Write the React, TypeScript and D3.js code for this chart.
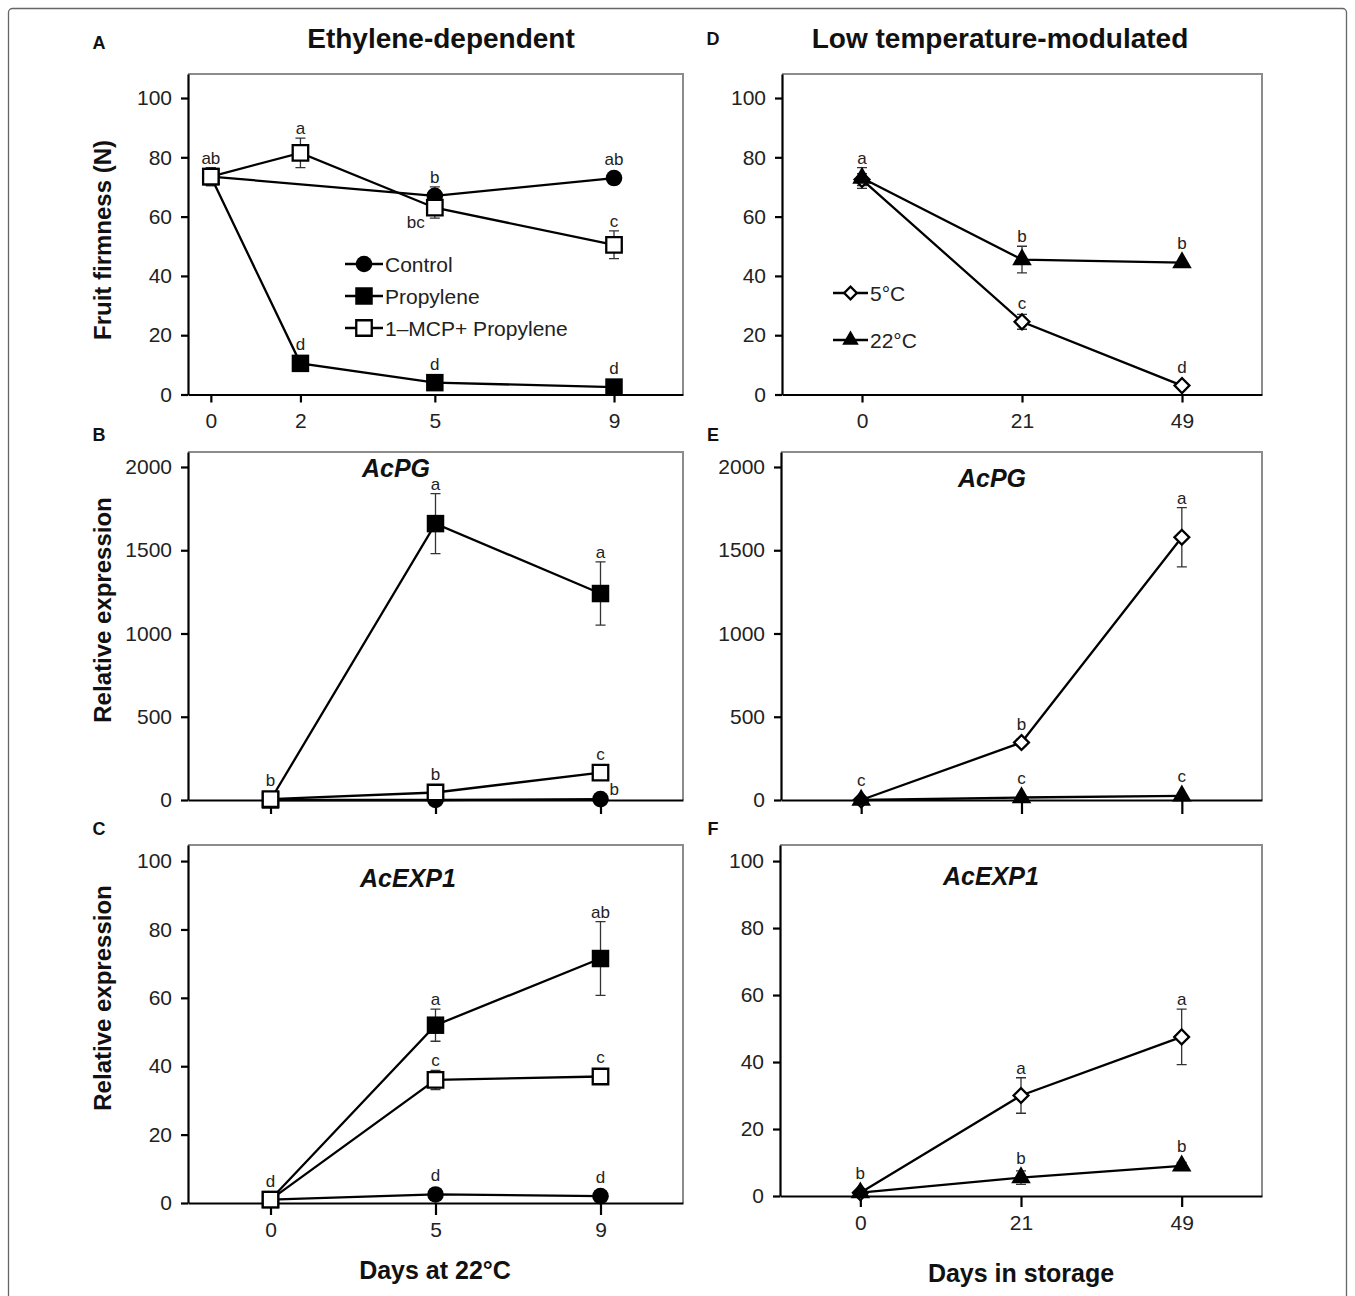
import * as d3 from 'd3';
import { useEffect, useRef } from 'react';

const FONT = 'Liberation Sans, Arial, Helvetica, sans-serif'

// ---------- A: fruit firmness, ethylene treatments ----------
const daysA = [0, 2, 5, 9]
const firmCtrlDays = [0, 5, 9]
const firmCtrl = [73.5, 67, 73]
const firmCtrlErr = [3, 3, 2]
const firmCtrlLetters = ['ab', 'b', 'ab']
const firmProp = [73.5, 10.5, 4, 2.5]
const firmPropErr = [0, 0, 0, 0]
const firmPropLetters = ['', 'd', 'd', 'd']
const firmMcp = [73.5, 81.5, 63, 50.5]
const firmMcpErr = [3, 5, 3.5, 4.7]
const firmMcpLetters = ['', 'a', 'bc', 'c']
const firmMcpLetterPos = ['top', 'top', 'left', 'top']

// ---------- B / C: expression, ethylene treatments ----------
const daysEth = ['0', '5', '9']
const pgEthCtrl = [0, 0, 5]
const pgEthCtrlLetters = ['', '', 'b']
const pgEthCtrlLetterPos = ['top', 'top', 'right']
const pgEthProp = [0, 1660, 1240]
const pgEthPropErr = [0, 180, 190]
const pgEthPropLetters = ['', 'a', 'a']
const pgEthMcp = [5, 45, 165]
const pgEthMcpLetters = ['b', 'b', 'c']

const expEthCtrl = [1, 2.5, 2]
const expEthCtrlLetters = ['', 'd', 'd']
const expEthProp = [1, 52, 71.5]
const expEthPropErr = [0, 4.7, 10.8]
const expEthPropLetters = ['', 'a', 'ab']
const expEthMcp = [1, 36, 37]
const expEthMcpErr = [0, 2.8, 0]
const expEthMcpLetters = ['d', 'c', 'c']

// ---------- D / E / F: storage temperature ----------
const daysStore = ['0', '21', '49']
const firmSt5 = [72.5, 24.5, 3]
const firmSt5Err = [2, 2.5, 0]
const firmSt5Letters = ['', 'c', 'd']
const firmSt22 = [73, 45.5, 44.5]
const firmSt22Err = [3.5, 4.5, 0]
const firmSt22Letters = ['a', 'b', 'b']

const pgSt5 = [0, 345, 1578]
const pgSt5Err = [0, 20, 178]
const pgSt5Letters = ['', 'b', 'a']
const pgSt22 = [0, 15, 25]
const pgSt22Letters = ['c', 'c', 'c']

const expSt5 = [1, 30, 47.5]
const expSt5Err = [0, 5.3, 8.3]
const expSt5Letters = ['', 'a', 'a']
const expSt22 = [1, 5.5, 9]
const expSt22Err = [0, 2, 1]
const expSt22Letters = ['b', 'b', 'b']

const ticksFirm = [0, 20, 40, 60, 80, 100]
const ticksPG = [0, 500, 1000, 1500, 2000]
const ticksExp = [0, 20, 40, 60, 80, 100]

const zeros = (n: number) => new Array(n).fill(0)

const ethLegend = [
  { name: 'Control', marker: 'circle' },
  { name: 'Propylene', marker: 'square' },
  { name: '1\u2013MCP+ Propylene', marker: 'open' },
]
const storeLegend = [
  { name: '5\u00b0C', marker: 'diamond' },
  { name: '22\u00b0C', marker: 'triangle' },
]

function ser(marker, x, y, err, letters, pos?) {
  return { marker, x, y, err, letters, pos: pos || letters.map(() => 'top') }
}

const panels = [
  {
    id: 'A', left: 188, right: 683, top: 74, bottom: 394.5, linear: true, xDomain: [-0.51, 10.54], xTicks: daysA,
    yDomain: [0, 108.1], yTicks: ticksFirm, tick: 8, labels: true,
    series: [
      ser('circle', firmCtrlDays, firmCtrl, firmCtrlErr, firmCtrlLetters),
      ser('square', daysA, firmProp, firmPropErr, firmPropLetters),
      ser('open', daysA, firmMcp, firmMcpErr, firmMcpLetters, firmMcpLetterPos),
    ],
    legend: { items: ethLegend, x1: 345, x2: 383, rows: [264, 296, 328], scale: 1 },
  },
  {
    id: 'B', left: 188, right: 683, top: 452, bottom: 800, cats: daysEth,
    yDomain: [0, 2090], yTicks: ticksPG, tick: 14, labels: false,
    gene: { text: 'AcPG', x: 396, y: 477 },
    series: [
      ser('circle', daysEth, pgEthCtrl, zeros(3), pgEthCtrlLetters, pgEthCtrlLetterPos),
      ser('square', daysEth, pgEthProp, pgEthPropErr, pgEthPropLetters),
      ser('open', daysEth, pgEthMcp, zeros(3), pgEthMcpLetters),
    ],
  },
  {
    id: 'C', left: 188, right: 683, top: 845, bottom: 1203, cats: daysEth,
    yDomain: [0, 104.7], yTicks: ticksExp, tick: 12, labels: true,
    gene: { text: 'AcEXP1', x: 408, y: 887 },
    series: [
      ser('circle', daysEth, expEthCtrl, zeros(3), expEthCtrlLetters),
      ser('square', daysEth, expEthProp, expEthPropErr, expEthPropLetters),
      ser('open', daysEth, expEthMcp, expEthMcpErr, expEthMcpLetters),
    ],
  },
  {
    id: 'D', left: 782, right: 1262, top: 74, bottom: 394.5, cats: daysStore,
    yDomain: [0, 108.1], yTicks: ticksFirm, tick: 8, labels: true,
    series: [
      ser('diamond', daysStore, firmSt5, firmSt5Err, firmSt5Letters),
      ser('triangle', daysStore, firmSt22, firmSt22Err, firmSt22Letters),
    ],
    legend: { items: storeLegend, x1: 833, x2: 868, rows: [293, 340], scale: 0.85 },
  },
  {
    id: 'E', left: 781, right: 1262, top: 452, bottom: 800, cats: daysStore,
    yDomain: [0, 2090], yTicks: ticksPG, tick: 14, labels: false,
    gene: { text: 'AcPG', x: 992, y: 487 },
    series: [
      ser('diamond', daysStore, pgSt5, pgSt5Err, pgSt5Letters),
      ser('triangle', daysStore, pgSt22, zeros(3), pgSt22Letters),
    ],
  },
  {
    id: 'F', left: 780, right: 1262, top: 845, bottom: 1196, cats: daysStore,
    yDomain: [0, 104.8], yTicks: ticksExp, tick: 11, labels: true,
    gene: { text: 'AcEXP1', x: 991, y: 885 },
    series: [
      ser('diamond', daysStore, expSt5, expSt5Err, expSt5Letters),
      ser('triangle', daysStore, expSt22, expSt22Err, expSt22Letters),
    ],
  },
]

function drawMarker(g, kind, cx, cy, s = 1) {
  if (kind === 'circle') {
    g.append('circle').attr('cx', cx).attr('cy', cy).attr('r', 8.3 * s).attr('fill', '#000')
  } else if (kind === 'square') {
    g.append('path').attr('d', d3.symbol(d3.symbolSquare, (17.5 * s) ** 2)())
      .attr('transform', `translate(${cx},${cy})`).attr('fill', '#000')
  } else if (kind === 'open') {
    g.append('path').attr('d', d3.symbol(d3.symbolSquare, (15.5 * s) ** 2)())
      .attr('transform', `translate(${cx},${cy})`).attr('fill', '#fff').attr('stroke', '#000').attr('stroke-width', 2.3)
  } else if (kind === 'diamond') {
    g.append('path').attr('d', d3.symbol(d3.symbolSquare, (10.5 * s) ** 2)())
      .attr('transform', `translate(${cx},${cy}) rotate(45)`).attr('fill', '#fff').attr('stroke', '#000').attr('stroke-width', 2.3)
  } else {
    g.append('path').attr('d', d3.symbol(d3.symbolTriangle, 165 * s * s)())
      .attr('transform', `translate(${cx},${cy})`).attr('fill', '#000')
  }
}

function drawPanel(svg, p) {
  const g = svg.append('g')
  const x = p.linear
    ? d3.scaleLinear().domain(p.xDomain).range([p.left, p.right])
    : d3.scalePoint().domain(p.cats).range([p.left, p.right]).padding(0.5)
  const y = d3.scaleLinear().domain(p.yDomain).range([p.bottom, p.top])

  // light frame on top and right
  g.append('path')
    .attr('d', `M${p.left},${p.top}H${p.right}V${p.bottom}`)
    .attr('fill', 'none').attr('stroke', '#8c8c8c').attr('stroke-width', 2)

  const xAxis = d3.axisBottom(x).tickSizeInner(p.tick).tickSizeOuter(0).tickPadding(Math.max(2, 19 - p.tick))
  if (p.linear) xAxis.tickValues(p.xTicks).tickFormat(d3.format('d'))
  if (!p.labels) xAxis.tickFormat(() => '')
  const gx = g.append('g').attr('transform', `translate(0,${p.bottom})`).call(xAxis)

  const yAxis = d3.axisLeft(y).tickValues(p.yTicks).tickFormat(d3.format('d'))
    .tickSizeInner(7).tickSizeOuter(0).tickPadding(9)
  const gy = g.append('g').attr('transform', `translate(${p.left},0)`).call(yAxis)

  ;[gx, gy].forEach(a => {
    a.select('.domain').attr('stroke', '#000').attr('stroke-width', 2.2)
    a.selectAll('line').attr('stroke', '#000').attr('stroke-width', 2.2)
    a.selectAll('text').attr('font-size', 21).attr('font-family', FONT).attr('fill', '#222')
  })

  const line = d3.line().x(d => x(d[0])).y(d => y(d[1]))

  p.series.forEach(s => {
    s.y.forEach((v, i) => {
      const e = s.err[i]
      if (!e) return
      const cx = x(s.x[i])
      g.append('path')
        .attr('d', `M${cx},${y(v - e)}V${y(v + e)}M${cx - 5},${y(v + e)}H${cx + 5}M${cx - 5},${y(v - e)}H${cx + 5}`)
        .attr('stroke', '#333').attr('stroke-width', 1.3).attr('fill', 'none')
    })
  })
  p.series.forEach(s => {
    g.append('path')
      .datum(s.x.map((d, i) => [d, s.y[i]]))
      .attr('d', line)
      .attr('fill', 'none').attr('stroke', '#000').attr('stroke-width', 2.3)
  })
  p.series.forEach(s => {
    s.x.forEach((d, i) => drawMarker(g, s.marker, x(d), y(s.y[i])))
  })

  // significance letters
  p.series.forEach(s => {
    s.letters.forEach((t, i) => {
      if (!t) return
      const cx = x(s.x[i])
      const cy = y(s.y[i])
      const half = s.marker === 'triangle' ? 10 : 9
      const pos = s.pos[i]
      const txt = g.append('text').text(t).attr('font-size', 17).attr('font-family', FONT).attr('fill', '#222')
      if (pos === 'left') {
        txt.attr('x', cx - 10).attr('y', cy + 20).attr('text-anchor', 'end')
      } else if (pos === 'right') {
        txt.attr('x', cx + 9).attr('y', cy - 4).attr('text-anchor', 'start')
      } else {
        const topY = Math.min(y(s.y[i] + s.err[i]), cy - half)
        txt.attr('x', cx).attr('y', topY - 4).attr('text-anchor', 'middle')
      }
    })
  })

  if (p.gene) {
    g.append('text').text(p.gene.text)
      .attr('x', p.gene.x).attr('y', p.gene.y).attr('text-anchor', 'middle')
      .attr('font-size', 25).attr('font-weight', 'bold').attr('font-style', 'italic')
      .attr('font-family', FONT).attr('fill', '#111')
  }

  if (p.legend) {
    const L = p.legend
    L.items.forEach((it, i) => {
      const ry = L.rows[i]
      g.append('line').attr('x1', L.x1).attr('x2', L.x2).attr('y1', ry).attr('y2', ry)
        .attr('stroke', '#000').attr('stroke-width', 2.3)
      drawMarker(g, it.marker, (L.x1 + L.x2) / 2, ry, L.scale)
      g.append('text').text(it.name).attr('x', L.x2 + 2).attr('y', ry + 8)
        .attr('font-size', 21).attr('font-family', FONT).attr('fill', '#222')
    })
  }
}

function drawChart(el) {
  const svg = d3.select(el)
  svg.selectAll('*').remove()

  svg.append('rect').attr('x', 8.5).attr('y', 8.5).attr('width', 1338).attr('height', 1310).attr('rx', 4)
    .attr('fill', 'none').attr('stroke', '#666').attr('stroke-width', 1.3)

  panels.forEach(p => drawPanel(svg, p))

  const letters = [['A', 99, 49], ['B', 99, 441], ['C', 99, 835], ['D', 713, 45], ['E', 713, 441], ['F', 713, 835]]
  letters.forEach(([t, lx, ly]) => {
    svg.append('text').text(t).attr('x', lx).attr('y', ly).attr('text-anchor', 'middle')
      .attr('font-size', 18).attr('font-weight', 'bold').attr('font-family', FONT).attr('fill', '#111')
  })

  const bold = (t, tx, ty, size, rotate = false) => {
    const el = svg.append('text').text(t).attr('text-anchor', 'middle')
      .attr('font-size', size).attr('font-weight', 'bold').attr('font-family', FONT).attr('fill', '#111')
    if (rotate) el.attr('transform', `translate(${tx},${ty}) rotate(-90)`)
    else el.attr('x', tx).attr('y', ty)
  }
  bold('Ethylene-dependent', 441, 48, 28)
  bold('Low temperature-modulated', 1000, 48, 28)
  bold('Fruit firmness (N)', 111, 240, 24, true)
  bold('Relative expression', 111, 610, 24, true)
  bold('Relative expression', 111, 998, 24, true)
  bold('Days at 22\u00b0C', 435, 1279, 25)
  bold('Days in storage', 1021, 1282, 25)
}

export default function App() {
  const svgRef = useRef(null)

  useEffect(() => {
    drawChart(svgRef.current)
  }, [svgRef])

  return (
    <div>
      <svg ref={svgRef} width={1355} height={1296}
        style={{ position: 'absolute', left: 0, top: 0, background: '#fff' }}></svg>
    </div>
  )
}
